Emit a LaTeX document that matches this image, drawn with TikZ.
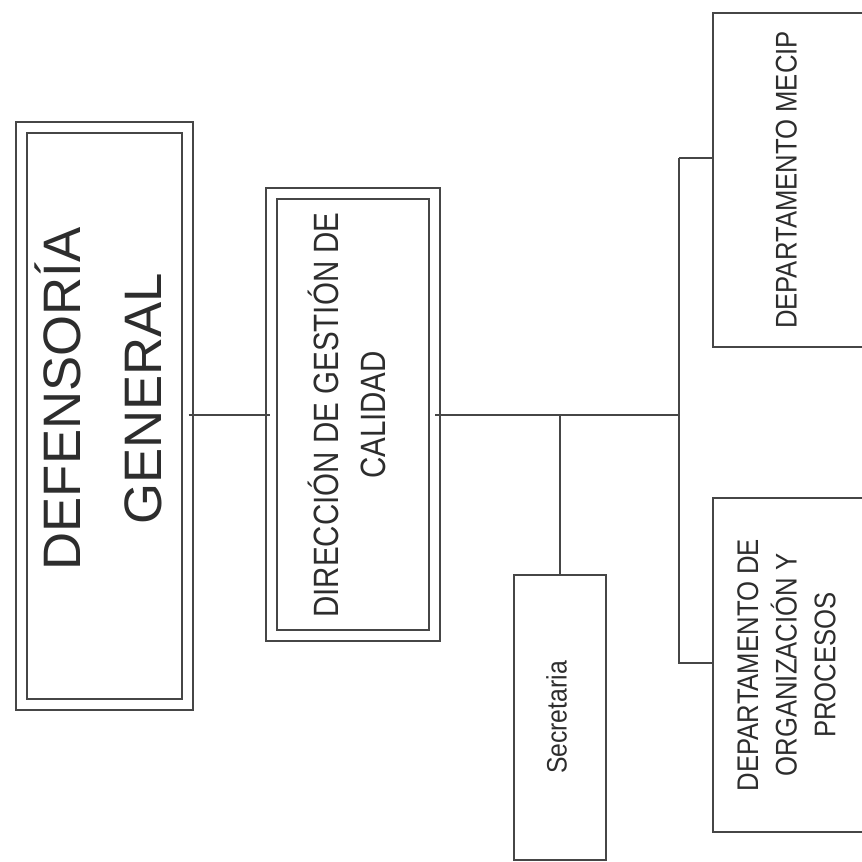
\documentclass[tikz,border=0pt]{standalone}
\usepackage{fontspec}
\setmainfont{Liberation Sans}
\usepackage{graphicx}
\usetikzlibrary{positioning, calc}
\definecolor{linea}{RGB}{70,70,70}
\definecolor{texto}{RGB}{45,45,45}
% rotated (bottom to top), slightly condensed label
\newcommand{\vlabel}[3][0pt]{\rotatebox{90}{\hspace*{#1}\scalebox{#2}[1]{\begin{tabular}{@{}c@{}}#3\end{tabular}}}}

\begin{document}
\begin{tikzpicture}[
    box/.style={draw=linea, line width=0.04cm, inner sep=0pt, text=texto, align=center},
    dbox/.style={box, double=white, double distance=0.18cm},
    conn/.style={draw=linea, line width=0.04cm}
]
\useasboundingbox (0,0) rectangle (17.24,17.24);
\clip (0,0) rectangle (17.24,17.24);

% Direccion general
\node[dbox, minimum width=3.32cm, minimum height=11.54cm, font=\fontsize{30}{46}\selectfont] (def) at (2.09, 8.92)
    {\vlabel[0.68cm]{1}{DEFENSORÍA\\GENERAL}};

\node[dbox, minimum width=3.26cm, minimum height=8.84cm, font=\fontsize{20}{27}\selectfont] (dir) at (7.05, 8.94)
    {\vlabel{0.84}{DIRECCIÓN DE GESTIÓN DE\\CALIDAD}};

% Apoyo
\node[box, minimum width=1.84cm, minimum height=5.70cm, font=\fontsize{16}{19}\selectfont] (sec) at (11.2, 2.89)
    {\vlabel{0.88}{Secretaria}};

% Departamentos
\node[box, minimum width=3.04cm, minimum height=6.68cm, font=\fontsize{17}{22}\selectfont] (mecip) at (15.78, 13.64)
    {\vlabel{0.86}{DEPARTAMENTO MECIP}};
\node[box, minimum width=3.04cm, minimum height=6.68cm, font=\fontsize{17}{22}\selectfont] (org) at (15.78, 3.94)
    {\vlabel{0.86}{DEPARTAMENTO DE\\ORGANIZACIÓN Y\\PROCESOS}};

% Conexiones
\coordinate (bt) at (13.58, 14.08);
\coordinate (bb) at (13.58, 3.98);
\draw[conn] (def.east |- dir.west) -- (dir.west);
\draw[conn] (dir.east) -- (dir.east -| bt);
\draw[conn] (dir.east -| sec.north) -- (sec.north);
\draw[conn] (bt) -- (bt -| mecip.west);
\draw[conn] (bt) -- (bb) -- (bb -| org.west);

\end{tikzpicture}
\end{document}
